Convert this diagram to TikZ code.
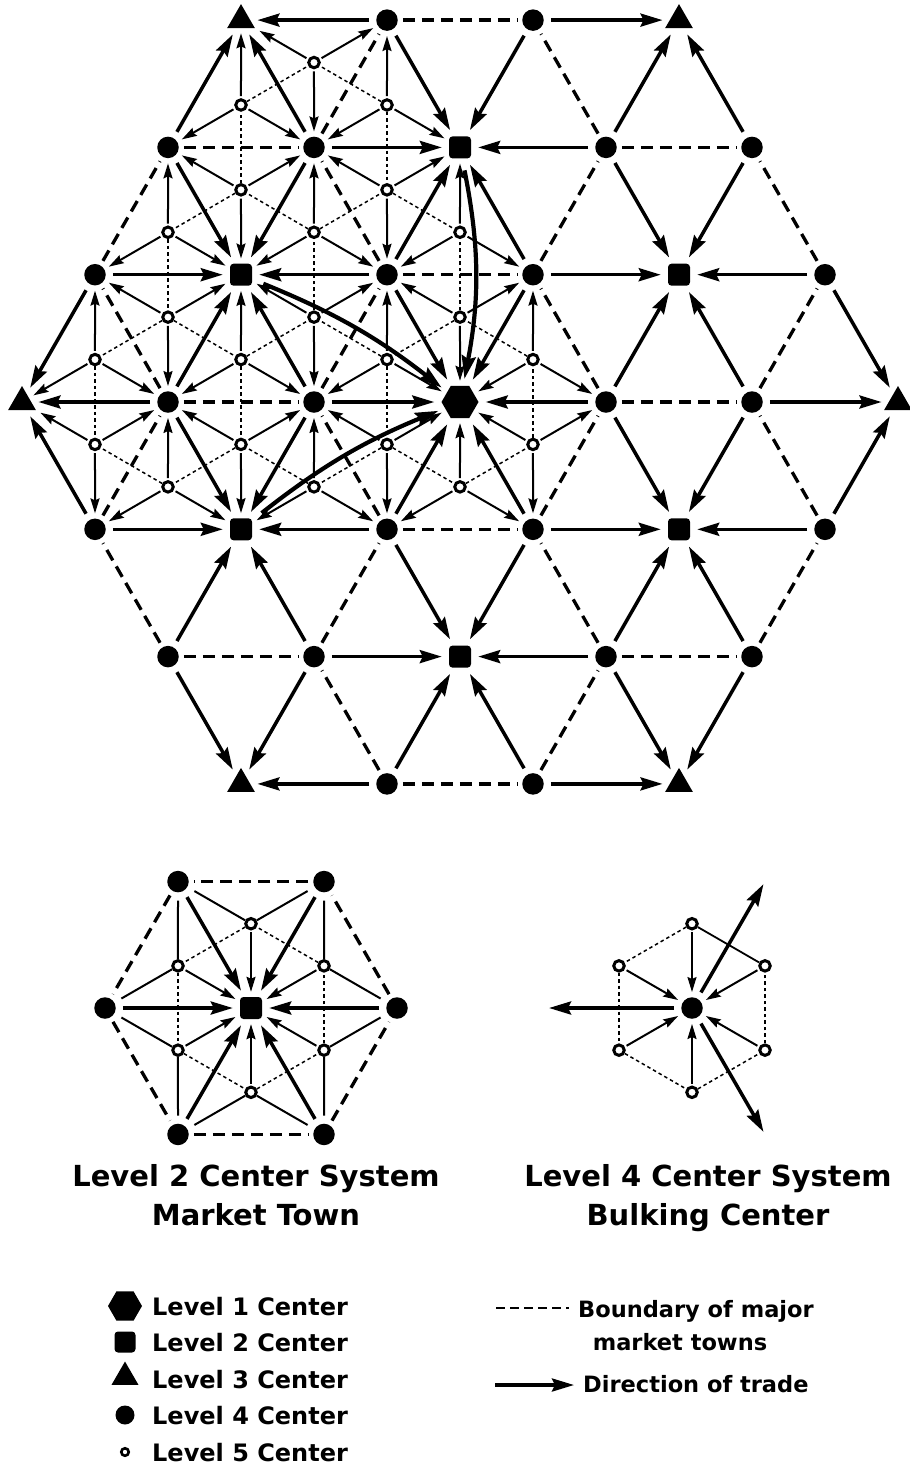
\documentclass[tikz,border=0pt]{standalone}
\usepackage{fontspec}
\setmainfont{DejaVu Sans}
\usetikzlibrary{shapes.geometric,arrows.meta,calc}
\pgfdeclarelayer{bg}
\pgfsetlayers{bg,main}
\begin{document}
\begin{tikzpicture}[x=1pt,y=1pt,
  lvone/.style={regular polygon,regular polygon sides=6,fill=black,inner sep=0pt,minimum size=37pt},
  lvtwo/.style={rectangle,rounded corners=3.5pt,fill=black,inner sep=0pt,minimum size=22pt},
  lvthree/.style={regular polygon,regular polygon sides=3,fill=black,inner sep=0pt,minimum size=32pt},
  lvfour/.style={circle,fill=black,inner sep=0pt,minimum size=21.5pt},
  lvfive/.style={circle,draw=black,fill=white,line width=3pt,inner sep=0pt,minimum size=10.5pt},
  trade/.style={line width=3.5pt,-{Stealth[length=22pt,width=13pt,inset=3pt]},shorten <=7pt,shorten >=7pt},
  bound/.style={line width=3.3pt,dash pattern=on 12pt off 7pt,shorten <=5pt,shorten >=5pt},
  small/.style={line width=2pt,-{Stealth[length=15pt,width=9pt,inset=2pt]},shorten <=2pt,shorten >=5pt},
  fine/.style={line width=1.5pt,dash pattern=on 3.5pt off 3pt},
  plain/.style={line width=2pt,shorten >=8pt},
  bigcurve/.style={line width=4.2pt,-{Stealth[length=23pt,width=14pt,inset=3pt]},shorten <=12pt,shorten >=7pt},
  ttl/.style={font=\bfseries\fontsize{29}{34}\selectfont,anchor=base,inner sep=0pt},
  leg/.style={font=\bfseries\fontsize{24}{28}\selectfont,anchor=base west,inner sep=0pt},
  legr/.style={font=\bfseries\fontsize{22.5}{27}\selectfont,anchor=base west,inner sep=0pt}
]
\useasboundingbox (0,-1465) rectangle (910,0);

% ---------- main lattice nodes ----------
\foreach \i in {-3,...,3}{
  \foreach \j in {-3,...,3}{
    \pgfmathtruncatemacro{\Ld}{max(abs(\i),abs(\j),abs(\i+(\j)))}
    \ifnum\Ld<4
      \pgfmathtruncatemacro{\Lm}{mod(\i-(\j)+9,3)}
      \pgfmathtruncatemacro{\Li}{\i+3}
      \pgfmathtruncatemacro{\Lj}{\j+3}
      \pgfmathsetmacro{\Lx}{460+146*(\i)+73*(\j)}
      \pgfmathsetmacro{\Ly}{-402+127.3*(\j)}
      \ifnum\Lm=0
        \ifnum\Ld=0 \node[lvone] (p\Li\Lj) at (\Lx,\Ly) {};\fi
        \ifnum\Ld=2 \node[lvtwo] (p\Li\Lj) at (\Lx,\Ly) {};\fi
        \ifnum\Ld=3 \node[lvthree] (p\Li\Lj) at (\Lx,\Ly) {};\fi
      \else
        \node[lvfour] (p\Li\Lj) at (\Lx,\Ly) {};
      \fi
    \fi
  }
}

% ---------- level 5 centres (triangle centroids) ----------
\foreach \n/\va/\vb/\vc in {h0/p33/p43/p34,h1/p33/p34/p24,h2/p33/p24/p23,h3/p33/p23/p32,h4/p33/p32/p42,h5/p33/p42/p43,
  b0/p14/p24/p15,b1/p14/p15/p05,b2/p14/p05/p04,b3/p14/p04/p13,b4/p14/p13/p23,b5/p14/p23/p24,
  a2/p25/p16/p15,a3/p25/p15/p24,a4/p25/p24/p34,
  c0/p22/p32/p23,c1/p22/p23/p13,c2/p22/p13/p12,
  t4/p06/p05/p15,t5/p06/p15/p16,
  u0/p03/p13/p04,u5/p03/p12/p13}{
  \node[lvfive] (\n) at ($0.333333*(\va)+0.333333*(\vb)+0.333334*(\vc)$) {};
}

% ---------- inset: level 2 system ----------
\node[lvtwo] (q) at (251,-1008) {};
\foreach \k in {0,...,5}{
  \node[lvfour] (qv\k) at ($(251,-1008)+(\k*60:146)$) {};
  \node[lvfive] (qf\k) at ($(251,-1008)+(\k*60+30:84.3)$) {};
}

% ---------- inset: level 4 system ----------
\node[lvfour] (r) at (692,-1008) {};
\foreach \k in {0,...,5}{
  \node[lvfive] (rf\k) at ($(692,-1008)+(\k*60+30:84.3)$) {};
}
\coordinate (ro1) at ($(692,-1008)+(60:143)$);
\coordinate (ro2) at ($(692,-1008)+(180:143)$);
\coordinate (ro3) at ($(692,-1008)+(300:143)$);

% ---------- connectors ----------
\begin{pgfonlayer}{bg}
\foreach \i in {-3,...,3}{
  \foreach \j in {-3,...,3}{
    \pgfmathtruncatemacro{\Ld}{max(abs(\i),abs(\j),abs(\i+(\j)))}
    \ifnum\Ld<4
      \pgfmathtruncatemacro{\Lm}{mod(\i-(\j)+9,3)}
      \pgfmathtruncatemacro{\Li}{\i+3}
      \pgfmathtruncatemacro{\Lj}{\j+3}
      \foreach \da/\db in {1/0,0/1,-1/1}{
        \pgfmathtruncatemacro{\Ki}{\i+(\da)}
        \pgfmathtruncatemacro{\Kj}{\j+(\db)}
        \pgfmathtruncatemacro{\Kd}{max(abs(\Ki),abs(\Kj),abs(\Ki+(\Kj)))}
        \ifnum\Kd<4
          \pgfmathtruncatemacro{\Km}{mod(\Ki-(\Kj)+9,3)}
          \pgfmathtruncatemacro{\Kii}{\Ki+3}
          \pgfmathtruncatemacro{\Kjj}{\Kj+3}
          \ifnum\Lm=0
            \draw[trade] (p\Kii\Kjj) -- (p\Li\Lj);
          \else
            \ifnum\Km=0
              \draw[trade] (p\Li\Lj) -- (p\Kii\Kjj);
            \else
              \draw[bound] (p\Li\Lj) -- (p\Kii\Kjj);
            \fi
          \fi
        \fi
      }
    \fi
  }
}
\foreach \n/\va/\vb/\vc in {h0/p33/p43/p34,h1/p33/p34/p24,h2/p33/p24/p23,h3/p33/p23/p32,h4/p33/p32/p42,h5/p33/p42/p43,
  b0/p14/p24/p15,b1/p14/p15/p05,b2/p14/p05/p04,b3/p14/p04/p13,b4/p14/p13/p23,b5/p14/p23/p24,
  a2/p25/p16/p15,a3/p25/p15/p24,a4/p25/p24/p34,
  c0/p22/p32/p23,c1/p22/p23/p13,c2/p22/p13/p12,
  t4/p06/p05/p15,t5/p06/p15/p16,
  u0/p03/p13/p04,u5/p03/p12/p13}{
  \draw[small] (\n) -- (\va);
  \draw[small] (\n) -- (\vb);
  \draw[small] (\n) -- (\vc);
}
\foreach \s/\e in {h0/h1,h1/h2,h2/h3,h3/h4,h4/h5,h5/h0,b0/b1,b1/b2,b2/b3,b3/b4,b4/b5,b5/b0,
  a2/a3,a3/a4,c0/c1,c1/c2,t4/t5,u0/u5,h1/a4,h2/b5,h3/c0,b0/a3,b1/t4,b3/u0,b4/c1,a2/t5,c2/u5}{
  \draw[fine] (\s) -- (\e);
}
\draw[bigcurve] (p14) to[bend left=8] (p33);
\draw[bigcurve] (p22) to[bend left=8] (p33);
\draw[bigcurve] (p25) to[bend left=11] (p33);

\foreach \k in {0,...,5}{
  \pgfmathtruncatemacro{\kn}{mod(\k+1,6)}
  \draw[bound] (qv\k) -- (qv\kn);
  \draw[trade] (qv\k) -- (q);
  \draw[small] (qf\k) -- (q);
  \draw[plain] (qf\k) -- (qv\k);
  \draw[plain] (qf\k) -- (qv\kn);
  \draw[fine] (qf\k) -- (qf\kn);
  \draw[small] (rf\k) -- (r);
  \ifnum\k=0
    \draw[line width=1.8pt] (rf\k) -- (rf\kn);
  \else
    \draw[fine] (rf\k) -- (rf\kn);
  \fi
}
\draw[trade,shorten >=0pt] (r) -- (ro1);
\draw[trade,shorten >=0pt] (r) -- (ro2);
\draw[trade,shorten >=0pt] (r) -- (ro3);
\end{pgfonlayer}

% ---------- titles ----------
\node[ttl] (ttlA) at (256,-1186) {Level 2 Center System};
\node[ttl] (ttlB) at (256,-1225) {Market Town};
\node[ttl] (ttlC) at (708,-1186) {Level 4 Center System};
\node[ttl] (ttlD) at (708,-1225) {Bulking Center};

% ---------- legend ----------
\node[lvone,minimum size=34pt] (k1) at (125,-1306) {};
\node[lvtwo,minimum size=21pt] (k2) at (125,-1342) {};
\node[lvthree,minimum size=31pt] (k3) at (125,-1377) {};
\node[lvfour,minimum size=19pt] (k4) at (125,-1415) {};
\node[lvfive,minimum size=7.5pt,line width=2.6pt] (k5) at (125,-1452) {};
\node[leg] (kt1) at (152,-1315) {Level\ 1\ Center};
\node[leg] (kt2) at (152,-1351) {Level\ 2\ Center};
\node[leg] (kt3) at (152,-1388) {Level\ 3\ Center};
\node[leg] (kt4) at (152,-1424) {Level\ 4\ Center};
\node[leg] (kt5) at (152,-1461) {Level\ 5\ Center};

\coordinate (bd1) at (496,-1308);
\coordinate (bd2) at (569,-1308);
\draw[line width=2pt,dash pattern=on 9pt off 5pt] (bd1) -- (bd2);
\node[legr] (bt1) at (578,-1317) {Boundary of major};
\node[legr,anchor=base] (bt2) at (680,-1350) {market towns};
\coordinate (ar1) at (495,-1385);
\coordinate (ar2) at (574,-1385);
\draw[trade,shorten <=0pt,shorten >=0pt] (ar1) -- (ar2);
\node[legr] (bt3) at (583,-1392) {Direction of trade};
\end{tikzpicture}
\end{document}
